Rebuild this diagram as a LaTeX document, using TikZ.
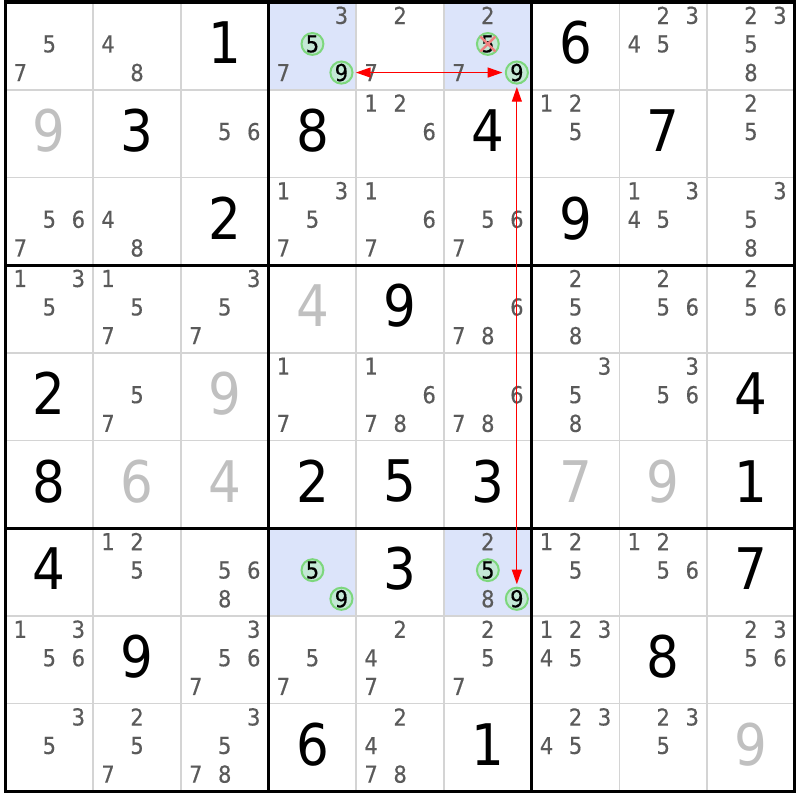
\documentclass[tikz,border=0pt]{standalone}
\usepackage{fontspec}
\setmainfont{DejaVu Sans}[FakeStretch=0.9]
\newfontfamily\candfont{DejaVu Sans}[FakeStretch=0.9, FakeBold=0.4]
\usetikzlibrary{arrows.meta}
\definecolor{candgray}{RGB}{90,90,90}
\definecolor{solvedgray}{RGB}{192,192,192}
\definecolor{thingray}{RGB}{212,212,212}
\definecolor{hlblue}{RGB}{220,228,250}
\definecolor{circgreen}{RGB}{125,215,125}
\definecolor{circfill}{RGB}{196,232,214}
\definecolor{crossred}{RGB}{240,128,128}
\tikzset{
  cand/.style={font=\candfont\fontsize{17.5}{18}\selectfont, text=candgray, inner sep=0pt},
  given/.style={font=\fontsize{43}{44}\selectfont, text=black, inner sep=0pt},
  solved/.style={given, text=solvedgray},
  circ/.style={circle, draw=circgreen, line width=1.5pt, fill=circfill, minimum size=15.8pt, inner sep=0pt, font=\candfont\fontsize{17.5}{18}\selectfont, text=black},
  thinline/.style={draw=thingray, line width=1.3pt},
  thickline/.style={draw=black, line width=2.3pt},
  hl/.style={fill=hlblue},
  crossline/.style={draw=crossred, line width=1.8pt, shorten <=1pt, shorten >=1pt},
  link/.style={draw=red, line width=0.9pt, {Triangle[length=11pt,width=7.5pt]}-{Triangle[length=11pt,width=7.5pt]}, shorten <=1.8pt, shorten >=1.8pt},
}
\newcommand\SCand[3]{%
  \foreach \d in {#3}{%
    \pgfmathsetmacro\cx{5.5+87.7*(#2-0.5)+29*(mod(\d-1,3)-1)}%
    \pgfmathsetmacro\cy{2+87.7*(#1-0.5)-1.9+28.6*(floor((\d-1)/3)-1)}%
    \node[cand] (r#1c#2d\d) at (\cx,\cy) {\d};
  }}
\newcommand\SCirc[3]{%
  \pgfmathsetmacro\cx{5.5+87.7*(#2-0.5)+29*(mod(#3-1,3)-1)}%
  \pgfmathsetmacro\cy{2+87.7*(#1-0.5)-1.9+28.6*(floor((#3-1)/3)-1)}%
  \node[circ] (r#1c#2d#3) at (\cx,\cy) {#3};}
\newcommand\SGiven[3]{%
  \node[given] (r#1c#2) at ({5.5+87.7*(#2-0.5)},{2+87.7*(#1-0.5)-3}) {#3};}
\newcommand\SSolved[3]{%
  \node[solved] (r#1c#2) at ({5.5+87.7*(#2-0.5)},{2+87.7*(#1-0.5)-3}) {#3};}
\begin{document}
\begin{tikzpicture}[x=0.75pt,y=-0.75pt]
\useasboundingbox (0,0) rectangle (800,800);
\fill[white] (0,0) rectangle (800,800);
% highlighted cells
\foreach \r/\c in {1/4,1/6,7/4,7/6}
  \fill[hl] ({5.5+87.7*(\c-1)},{2+87.7*(\r-1)}) rectangle ++(87.7,87.7);
% thin grid lines
\foreach \i in {1,2,4,5,7,8}{
  \draw[thinline] ({5.5+87.7*\i},2) -- ({5.5+87.7*\i},791.3);
  \draw[thinline] (5.5,{2+87.7*\i}) -- (794.8,{2+87.7*\i});
}
% thick box lines
\foreach \i in {3,6}{
  \draw[thickline] ({5.5+87.7*\i},2) -- ({5.5+87.7*\i},791.3);
  \draw[thickline] (5.5,{2+87.7*\i}) -- (794.8,{2+87.7*\i});
}
\draw[thickline] (5.5,2) rectangle (794.8,791.3);
% row 1
\SCand{1}{1}{5,7} \SCand{1}{2}{4,8} \SGiven{1}{3}{1}
\SCand{1}{4}{3,7} \SCirc{1}{4}{5} \SCirc{1}{4}{9}
\SCand{1}{5}{2,7}
\SCand{1}{6}{2,7} \SCirc{1}{6}{5} \SCirc{1}{6}{9}
\SGiven{1}{7}{6} \SCand{1}{8}{2,3,4,5} \SCand{1}{9}{2,3,5,8}
% row 2
\SSolved{2}{1}{9} \SGiven{2}{2}{3} \SCand{2}{3}{5,6}
\SGiven{2}{4}{8} \SCand{2}{5}{1,2,6} \SGiven{2}{6}{4}
\SCand{2}{7}{1,2,5} \SGiven{2}{8}{7} \SCand{2}{9}{2,5}
% row 3
\SCand{3}{1}{5,6,7} \SCand{3}{2}{4,8} \SGiven{3}{3}{2}
\SCand{3}{4}{1,3,5,7} \SCand{3}{5}{1,6,7} \SCand{3}{6}{5,6,7}
\SGiven{3}{7}{9} \SCand{3}{8}{1,3,4,5} \SCand{3}{9}{3,5,8}
% row 4
\SCand{4}{1}{1,3,5} \SCand{4}{2}{1,5,7} \SCand{4}{3}{3,5,7}
\SSolved{4}{4}{4} \SGiven{4}{5}{9} \SCand{4}{6}{6,7,8}
\SCand{4}{7}{2,5,8} \SCand{4}{8}{2,5,6} \SCand{4}{9}{2,5,6}
% row 5
\SGiven{5}{1}{2} \SCand{5}{2}{5,7} \SSolved{5}{3}{9}
\SCand{5}{4}{1,7} \SCand{5}{5}{1,6,7,8} \SCand{5}{6}{6,7,8}
\SCand{5}{7}{3,5,8} \SCand{5}{8}{3,5,6} \SGiven{5}{9}{4}
% row 6
\SGiven{6}{1}{8} \SSolved{6}{2}{6} \SSolved{6}{3}{4}
\SGiven{6}{4}{2} \SGiven{6}{5}{5} \SGiven{6}{6}{3}
\SSolved{6}{7}{7} \SSolved{6}{8}{9} \SGiven{6}{9}{1}
% row 7
\SGiven{7}{1}{4} \SCand{7}{2}{1,2,5} \SCand{7}{3}{5,6,8}
\SCirc{7}{4}{5} \SCirc{7}{4}{9}
\SGiven{7}{5}{3}
\SCand{7}{6}{2,8} \SCirc{7}{6}{5} \SCirc{7}{6}{9}
\SCand{7}{7}{1,2,5} \SCand{7}{8}{1,2,5,6} \SGiven{7}{9}{7}
% row 8
\SCand{8}{1}{1,3,5,6} \SGiven{8}{2}{9} \SCand{8}{3}{3,5,6,7}
\SCand{8}{4}{5,7} \SCand{8}{5}{2,4,7} \SCand{8}{6}{2,5,7}
\SCand{8}{7}{1,2,3,4,5} \SGiven{8}{8}{8} \SCand{8}{9}{2,3,5,6}
% row 9
\SCand{9}{1}{3,5} \SCand{9}{2}{2,5,7} \SCand{9}{3}{3,5,7,8}
\SGiven{9}{4}{6} \SCand{9}{5}{2,4,7,8} \SGiven{9}{6}{1}
\SCand{9}{7}{2,3,4,5} \SCand{9}{8}{2,3,5} \SSolved{9}{9}{9}
% eliminated candidate
\draw[crossline] (r1c6d5.north west) -- (r1c6d5.south east);
\draw[crossline] (r1c6d5.north east) -- (r1c6d5.south west);
% links
\draw[link] (r1c4d9) -- (r1c6d9);
\draw[link] (r1c6d9) -- (r7c6d9);
\end{tikzpicture}
\end{document}
